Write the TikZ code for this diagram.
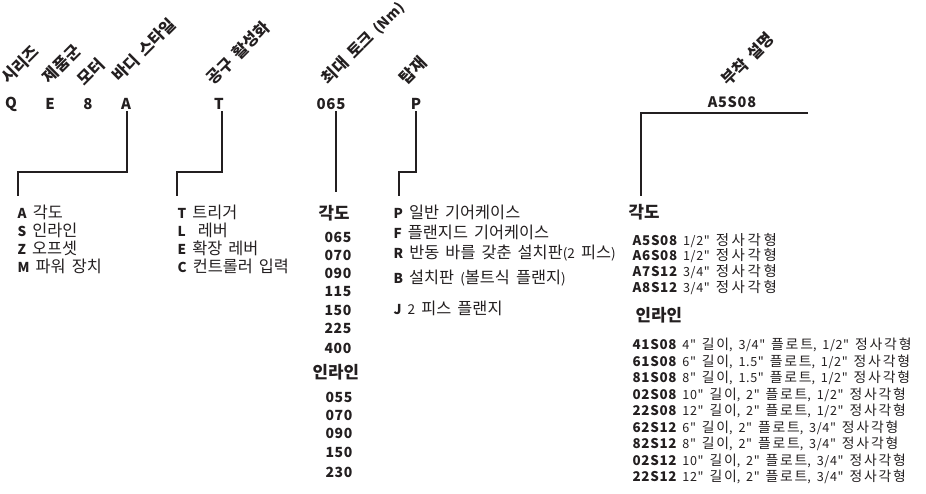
\documentclass[tikz,border=0pt]{standalone}
\usepackage{fontspec}
\newfontfamily\latinfont{Noto Sans CJK KR}[WordSpace=2]
\newfontfamily\latinwide{Noto Sans CJK KR}[WordSpace=1.7, LetterSpace=5]
\newfontfamily\krplain{Noto Sans CJK KR}[Scale=1.2]
\newfontfamily\krwide{Noto Sans CJK KR}[Scale=1.15, LetterSpace=18]
\newfontfamily\krmid{Noto Sans CJK KR}[Scale=1.1, LetterSpace=13]
\let\krcur\krplain
% hangul runs switch to the Korean family on their own
\XeTeXinterchartokenstate=1
\newXeTeXintercharclass\hangulclass
\newcount\hangulchar
\hangulchar="AC00
\loop
  \XeTeXcharclass\hangulchar=\hangulclass
  \advance\hangulchar by 1
\ifnum\hangulchar<"D7A4 \repeat
\XeTeXinterchartoks 0 \hangulclass = {\begingroup\krcur}
\XeTeXinterchartoks 4095 \hangulclass = {\begingroup\krcur}
\XeTeXinterchartoks \hangulclass 0 = {\endgroup}
\XeTeXinterchartoks \hangulclass 4095 = {\endgroup}
\newcommand{\partcode}[1]{{\bfseries\fontsize{13.4}{14}\selectfont #1}}
\usetikzlibrary{positioning, calc}
\definecolor{cink}{HTML}{231F20}
\tikzset{
  every picture/.style={line width=1.3pt},
  code/.style={font=\latinwide\bfseries\fontsize{15}{18}\selectfont, text=cink, inner sep=1pt},
  field/.style={font=\latinfont\bfseries\fontsize{13.5}{15}\selectfont, text=cink, rotate=45, anchor=south west, inner sep=0pt},
  item/.style={font=\latinfont\fontsize{13.6}{16}\selectfont, text=cink, anchor=west, inner sep=0pt},
  head/.style={font=\latinfont\bfseries\fontsize{14}{17}\selectfont, text=cink, anchor=west, inner sep=0pt},
  num/.style={font=\latinwide\bfseries\fontsize{14}{16}\selectfont, text=cink, inner sep=0pt},
  spec/.style={font=\latinwide\fontsize{12.6}{14}\selectfont\let\krcur\krwide, text=cink, anchor=west, inner sep=0pt},
  inline/.style={spec, font=\latinwide\fontsize{12.6}{14}\selectfont\let\krcur\krmid},
  link/.style={draw=cink, line width=1.3pt},
}

\begin{document}
\begin{tikzpicture}[x=1pt, y=-1pt]
  \useasboundingbox (0,0) rectangle (926,494);
  % ---- model code
  \node[code] (series) at (11,104) {Q};
  \node[code] (family) at (50,104) {E};
  \node[code] (motor)  at (88,104) {8};
  \node[code] (body)   at (126,104) {A};
  \node[code] (trig)   at (219,104) {T};
  \node[code] (torque) at (331,104) {065};
  \node[code] (mount)  at (416,104) {P};
  \node[code, font=\latinwide\bfseries\fontsize{14.5}{17}\selectfont] (att) at (732,102) {A5S08};
  % ---- field names
  \node[field] at (10,87)  {시리즈};
  \node[field] at (51,86)  {제품군};
  \node[field] at (86,89)  {모터};
  \node[field] at (121,85) {바디 스타일};
  \node[field] at (215,88) {공구 활성화};
  \node[field] at (331,88) {최대 토크 {\fontsize{14}{16}\selectfont(Nm)}};
  \node[field] at (408,87) {탑재};
  \node[field] at (730,89) {부착 설명};
  % ---- connectors
  \coordinate (bodyEnd) at (18,196);
  \coordinate (trigEnd) at (177,196);
  \coordinate (mountEnd) at (399,196);
  \coordinate (attR) at (808,113);
  \coordinate (attEnd) at (641,196);
  \draw[link] ([xshift=1pt]body.south) |- ($(bodyEnd)+(0,-24)$) -- (bodyEnd);
  \draw[link] ([xshift=3pt]trig.south) |- ($(trigEnd)+(0,-24)$) -- (trigEnd);
  \draw[link] ([xshift=5pt]torque.south) -- ++(0,81);
  \draw[link] (mount.south) |- ($(mountEnd)+(0,-24)$) -- (mountEnd);
  \draw[link] (attR) -| (attEnd);
  % ---- body style
  \foreach \c/\t [count=\i] in {A/각도, S/인라인, Z/오프셋, M/파워 장치}
    \node[item] (body\c) at (17,194+18*\i) {\textbf{\c} \t};
  % ---- tool activation
  \foreach \c/\t [count=\i] in {T/트리거, L/{\ 레버}, E/확장 레버, C/컨트롤러 입력}
    \node[item] (trig\c) at (177,194+18*\i) {\textbf{\c} \t};
  % ---- max torque
  \node[head] (tqAngle) at (318,213) {각도};
  \foreach \n/\y in {065/237, 070/255, 090/273, 115/292, 150/310, 225/328, 400/348}
    \node[num] (tqA\n) at (338,\y) {\n};
  \node[head] (tqInline) at (312,372) {인라인};
  \foreach \n/\y in {055/397, 070/415, 090/433, 150/452, 230/472}
    \node[num] (tqI\n) at (339,\y) {\n};
  % ---- mounting
  \foreach \c/\t/\y in {P/일반 기어케이스/212, F/플랜지드 기어케이스/232, R/반동 바를 갖춘 설치판(2 피스)/253, B/설치판 (볼트식 플랜지)/278, J/2 피스 플랜지/308}
    \node[item] (mount\c) at (393,\y) {\textbf{\c} \t};
  % ---- attachment
  \node[head] (attAngle) at (628,212) {각도};
  \foreach \c/\t [count=\i] in {A5S08/{1/2" 정사각형}, A6S08/{1/2" 정사각형}, A7S12/{3/4" 정사각형}, A8S12/{3/4" 정사각형}}
    \node[spec] (att\c) at (632,224.5+15.7*\i) {\partcode{\c} \t};
  \node[head] (attInline) at (635,315) {인라인};
  \foreach \c/\t [count=\i] in {41S08/{4" 길이, 3/4" 플로트, 1/2" 정사각형}, 61S08/{6" 길이, 1.5" 플로트, 1/2" 정사각형}, 81S08/{8" 길이, 1.5" 플로트, 1/2" 정사각형}, 02S08/{10" 길이, 2" 플로트, 1/2" 정사각형}, 22S08/{12" 길이, 2" 플로트, 1/2" 정사각형}, 62S12/{6" 길이, 2" 플로트, 3/4" 정사각형}, 82S12/{8" 길이, 2" 플로트, 3/4" 정사각형}, 02S12/{10" 길이, 2" 플로트, 3/4" 정사각형}, 22S12/{12" 길이, 2" 플로트, 3/4" 정사각형}}
    \node[inline] (in\c) at (632,328.5+16.5*\i) {\partcode{\c} \t};
\end{tikzpicture}
\end{document}
